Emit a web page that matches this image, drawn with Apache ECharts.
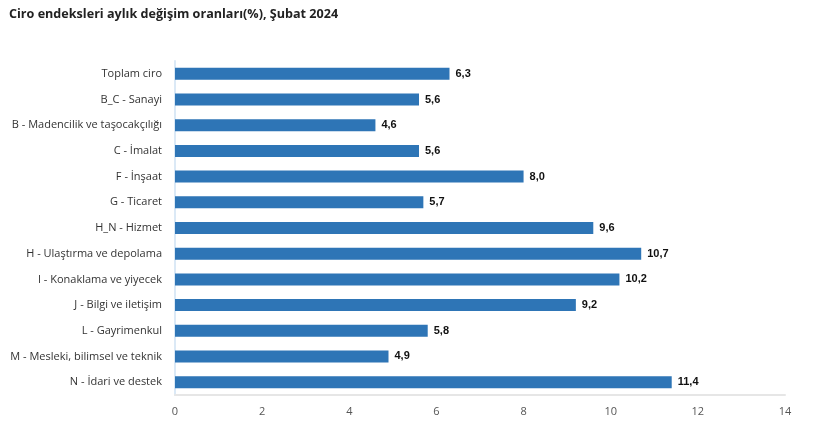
<!DOCTYPE html>
<html><head><meta charset="utf-8">
<script src="https://cdn.jsdelivr.net/npm/echarts@6/dist/echarts.min.js"></script>
<style>html,body{margin:0;padding:0;background:#fff}#c{width:816px;height:435px}</style>
</head><body><div id="c"></div>
<script>
const categories = ["Toplam ciro","B_C - Sanayi","B - Madencilik ve taşocakçılığı","C - İmalat","F - İnşaat","G - Ticaret","H_N - Hizmet","H - Ulaştırma ve depolama","I - Konaklama ve yiyecek","J - Bilgi ve iletişim","L - Gayrimenkul","M - Mesleki, bilimsel ve teknik","N - İdari ve destek"];
const values = [6.3,5.6,4.6,5.6,8.0,5.7,9.6,10.7,10.2,9.2,5.8,4.9,11.4];
const xTicks = [0,2,4,6,8,10,12,14];
const chart = echarts.init(document.getElementById('c'));
chart.setOption({
  animation:false,
  title:{text:"Ciro endeksleri aylık değişim oranları(%), Şubat 2024",left:4,top:3,
    textStyle:{fontFamily:"Open Sans",fontSize:12.6,fontWeight:"bold",color:"#222"}},
  grid:{left:175,right:31,top:61,bottom:40,containLabel:false},
  xAxis:{type:"value",min:xTicks[0],max:xTicks[xTicks.length-1],interval:2,
    axisLine:{show:true,lineStyle:{color:"#e6e6e6",width:2}},axisTick:{show:false},splitLine:{show:false},
    axisLabel:{color:"#555",fontFamily:"Open Sans",fontSize:11,margin:11}},
  yAxis:{type:"category",data:categories,inverse:true,
    axisLine:{show:true,lineStyle:{color:"#dbe9f6",width:2}},axisTick:{show:false},
    axisLabel:{color:"#333",fontFamily:"Open Sans",fontSize:11,margin:13}},
  series:[{type:"bar",data:values,barWidth:12,itemStyle:{color:"#2E75B6"},
    label:{show:true,position:"right",distance:6,color:"#111",fontFamily:"Liberation Sans",fontWeight:"bold",fontSize:11,
      formatter:p=>p.value.toFixed(1).replace('.',',')}}]
});
</script></body></html>
